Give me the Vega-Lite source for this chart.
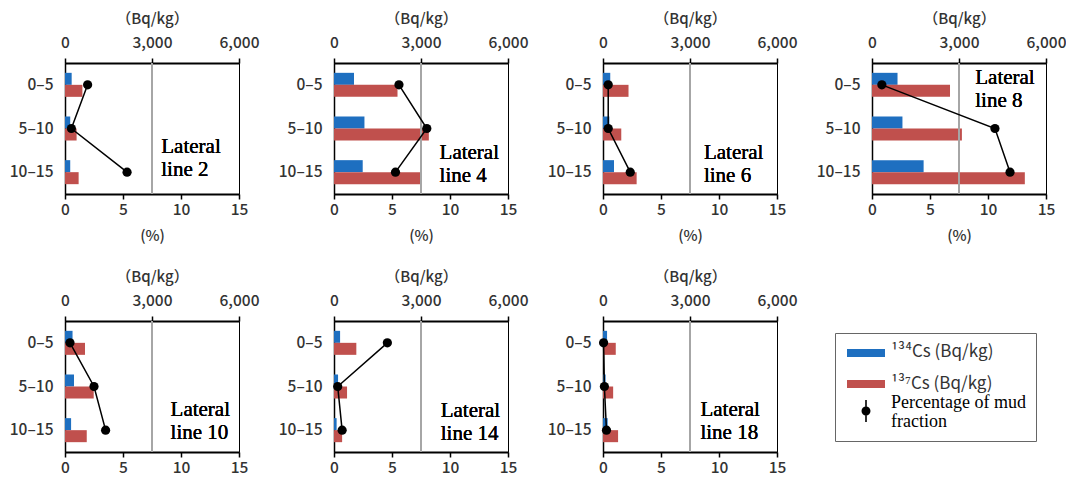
{
"$schema":"https://vega.github.io/schema/vega-lite/v6.json",
"padding":{"left":8,"top":10,"right":5,"bottom":5},
"datasets":{"d":[
{"panel":"Lateral line 2","depth":"0–5","series":"134Cs","value":230},
{"panel":"Lateral line 2","depth":"0–5","series":"137Cs","value":600},
{"panel":"Lateral line 2","depth":"0–5","series":"mud","value":1.95},
{"panel":"Lateral line 2","depth":"5–10","series":"134Cs","value":180},
{"panel":"Lateral line 2","depth":"5–10","series":"137Cs","value":400},
{"panel":"Lateral line 2","depth":"5–10","series":"mud","value":0.55},
{"panel":"Lateral line 2","depth":"10–15","series":"134Cs","value":180},
{"panel":"Lateral line 2","depth":"10–15","series":"137Cs","value":470},
{"panel":"Lateral line 2","depth":"10–15","series":"mud","value":5.35},
{"panel":"Lateral line 4","depth":"0–5","series":"134Cs","value":690},
{"panel":"Lateral line 4","depth":"0–5","series":"137Cs","value":2190},
{"panel":"Lateral line 4","depth":"0–5","series":"mud","value":5.6},
{"panel":"Lateral line 4","depth":"5–10","series":"134Cs","value":1050},
{"panel":"Lateral line 4","depth":"5–10","series":"137Cs","value":3270},
{"panel":"Lateral line 4","depth":"5–10","series":"mud","value":8.0},
{"panel":"Lateral line 4","depth":"10–15","series":"134Cs","value":990},
{"panel":"Lateral line 4","depth":"10–15","series":"137Cs","value":2970},
{"panel":"Lateral line 4","depth":"10–15","series":"mud","value":5.3},
{"panel":"Lateral line 6","depth":"0–5","series":"134Cs","value":250},
{"panel":"Lateral line 6","depth":"0–5","series":"137Cs","value":880},
{"panel":"Lateral line 6","depth":"0–5","series":"mud","value":0.45},
{"panel":"Lateral line 6","depth":"5–10","series":"134Cs","value":220},
{"panel":"Lateral line 6","depth":"5–10","series":"137Cs","value":630},
{"panel":"Lateral line 6","depth":"5–10","series":"mud","value":0.45},
{"panel":"Lateral line 6","depth":"10–15","series":"134Cs","value":380},
{"panel":"Lateral line 6","depth":"10–15","series":"137Cs","value":1160},
{"panel":"Lateral line 6","depth":"10–15","series":"mud","value":2.35},
{"panel":"Lateral line 8","depth":"0–5","series":"134Cs","value":880},
{"panel":"Lateral line 8","depth":"0–5","series":"137Cs","value":2690},
{"panel":"Lateral line 8","depth":"0–5","series":"mud","value":0.85},
{"panel":"Lateral line 8","depth":"5–10","series":"134Cs","value":1050},
{"panel":"Lateral line 8","depth":"5–10","series":"137Cs","value":3100},
{"panel":"Lateral line 8","depth":"5–10","series":"mud","value":10.6},
{"panel":"Lateral line 8","depth":"10–15","series":"134Cs","value":1780},
{"panel":"Lateral line 8","depth":"10–15","series":"137Cs","value":5270},
{"panel":"Lateral line 8","depth":"10–15","series":"mud","value":11.9},
{"panel":"Lateral line 10","depth":"0–5","series":"134Cs","value":260},
{"panel":"Lateral line 10","depth":"0–5","series":"137Cs","value":690},
{"panel":"Lateral line 10","depth":"0–5","series":"mud","value":0.43},
{"panel":"Lateral line 10","depth":"5–10","series":"134Cs","value":310},
{"panel":"Lateral line 10","depth":"5–10","series":"137Cs","value":990},
{"panel":"Lateral line 10","depth":"5–10","series":"mud","value":2.5},
{"panel":"Lateral line 10","depth":"10–15","series":"134Cs","value":210},
{"panel":"Lateral line 10","depth":"10–15","series":"137Cs","value":750},
{"panel":"Lateral line 10","depth":"10–15","series":"mud","value":3.5},
{"panel":"Lateral line 14","depth":"0–5","series":"134Cs","value":210},
{"panel":"Lateral line 14","depth":"0–5","series":"137Cs","value":770},
{"panel":"Lateral line 14","depth":"0–5","series":"mud","value":4.6},
{"panel":"Lateral line 14","depth":"5–10","series":"134Cs","value":140},
{"panel":"Lateral line 14","depth":"5–10","series":"137Cs","value":450},
{"panel":"Lateral line 14","depth":"5–10","series":"mud","value":0.32},
{"panel":"Lateral line 14","depth":"10–15","series":"134Cs","value":90},
{"panel":"Lateral line 14","depth":"10–15","series":"137Cs","value":280},
{"panel":"Lateral line 14","depth":"10–15","series":"mud","value":0.7},
{"panel":"Lateral line 18","depth":"0–5","series":"134Cs","value":140},
{"panel":"Lateral line 18","depth":"0–5","series":"137Cs","value":440},
{"panel":"Lateral line 18","depth":"0–5","series":"mud","value":0.05},
{"panel":"Lateral line 18","depth":"5–10","series":"134Cs","value":90},
{"panel":"Lateral line 18","depth":"5–10","series":"137Cs","value":350},
{"panel":"Lateral line 18","depth":"5–10","series":"mud","value":0.12},
{"panel":"Lateral line 18","depth":"10–15","series":"134Cs","value":160},
{"panel":"Lateral line 18","depth":"10–15","series":"137Cs","value":520},
{"panel":"Lateral line 18","depth":"10–15","series":"mud","value":0.3}
]},
"config":{
"font":"Noto Sans CJK JP",
"view":{"stroke":"black","strokeWidth":1},
"axis":{"domainColor":"black","domainWidth":2,"tickColor":"black","tickWidth":1.5,"tickSize":5,"labelFont":"Noto Sans CJK JP","labelFontSize":15.5,"labelFontWeight":500,"labelColor":"#333","titleFont":"Noto Sans CJK JP","titleFontSize":15,"titleFontWeight":500,"titleColor":"#333","grid":false,"labelAngle":0,"labelFlush":false}
},
"columns":4,
"spacing":{"row":127,"column":95},
"bounds":"flush",
"resolve":{"scale":{"color":"shared","shape":"shared"}},
"concat":[
{"width":174,"height":131,"data":{"name":"d"},"transform":[{"filter":"datum.panel == 'Lateral line 2'"}],
"layer":[
{"layer":[
{"transform":[{"filter":"datum.series != 'mud'"}],"mark":{"type":"bar"},
"encoding":{
"y":{"field":"depth","type":"nominal","sort":["0–5","5–10","10–15"],"scale":{"paddingInner":0.45,"paddingOuter":0.225},"axis":{"title":null,"ticks":false,"labelPadding":12,"domainWidth":1.5}},
"yOffset":{"field":"series","type":"nominal","sort":["134Cs","137Cs"],"scale":{"paddingInner":0,"paddingOuter":0}},
"x":{"field":"value","type":"quantitative","scale":{"domain":[0,6000],"nice":false},"axis":{"orient":"top","values":[0,3000,6000],"format":",d","title":"（Bq/kg）","labelPadding":8,"titlePadding":9}},
"color":{"field":"series","type":"nominal","scale":{"domain":["134Cs","137Cs","mud"],"range":["#1e6fc0","#c0504d","#000000"]}}}},
{"mark":{"type":"rule","color":"#a6a6a6","strokeWidth":1.5},"encoding":{"x":{"datum":3000}}}
]},
{"transform":[{"filter":"datum.series == 'mud'"}],"layer":[
{"mark":{"type":"line","color":"black","strokeWidth":1.5},"encoding":{
"x":{"field":"value","type":"quantitative","scale":{"domain":[0,15],"nice":false},"axis":{"orient":"bottom","values":[0,5,10,15],"title":"(%)","labelPadding":3,"titlePadding":11}},
"y":{"field":"depth","type":"nominal","sort":["0–5","5–10","10–15"]}}},
{"mark":{"type":"point","filled":true,"color":"black","opacity":1,"size":85,"shape":"circle"},"encoding":{
"x":{"field":"value","type":"quantitative"},
"y":{"field":"depth","type":"nominal","sort":["0–5","5–10","10–15"]}}},
{"mark":{"type":"text","text":["Lateral","line 2"],"font":"Liberation Serif","fontSize":21,"lineHeight":23,"align":"left","baseline":"alphabetic","dy":-19,"color":"black"},
"encoding":{"x":{"datum":8.3},"y":{"datum":"10–15"}}}
]}
],
"resolve":{"scale":{"x":"independent"},"axis":{"x":"independent"}}},

{"width":174,"height":131,"data":{"name":"d"},"transform":[{"filter":"datum.panel == 'Lateral line 4'"}],
"layer":[
{"layer":[
{"transform":[{"filter":"datum.series != 'mud'"}],"mark":{"type":"bar"},
"encoding":{
"y":{"field":"depth","type":"nominal","sort":["0–5","5–10","10–15"],"scale":{"paddingInner":0.45,"paddingOuter":0.225},"axis":{"title":null,"ticks":false,"labelPadding":12,"domainWidth":1.5}},
"yOffset":{"field":"series","type":"nominal","sort":["134Cs","137Cs"],"scale":{"paddingInner":0,"paddingOuter":0}},
"x":{"field":"value","type":"quantitative","scale":{"domain":[0,6000],"nice":false},"axis":{"orient":"top","values":[0,3000,6000],"format":",d","title":"（Bq/kg）","labelPadding":8,"titlePadding":9}},
"color":{"field":"series","type":"nominal","scale":{"domain":["134Cs","137Cs","mud"],"range":["#1e6fc0","#c0504d","#000000"]}}}},
{"mark":{"type":"rule","color":"#a6a6a6","strokeWidth":1.5},"encoding":{"x":{"datum":3000}}}
]},
{"transform":[{"filter":"datum.series == 'mud'"}],"layer":[
{"mark":{"type":"line","color":"black","strokeWidth":1.5},"encoding":{
"x":{"field":"value","type":"quantitative","scale":{"domain":[0,15],"nice":false},"axis":{"orient":"bottom","values":[0,5,10,15],"title":"(%)","labelPadding":3,"titlePadding":11}},
"y":{"field":"depth","type":"nominal","sort":["0–5","5–10","10–15"]}}},
{"mark":{"type":"point","filled":true,"color":"black","opacity":1,"size":85,"shape":"circle"},"encoding":{
"x":{"field":"value","type":"quantitative"},
"y":{"field":"depth","type":"nominal","sort":["0–5","5–10","10–15"]}}},
{"mark":{"type":"text","text":["Lateral","line 4"],"font":"Liberation Serif","fontSize":21,"lineHeight":23,"align":"left","baseline":"alphabetic","dy":-13,"color":"black"},
"encoding":{"x":{"datum":9.1},"y":{"datum":"10–15"}}}
]}
],
"resolve":{"scale":{"x":"independent"},"axis":{"x":"independent"}}},

{"width":174,"height":131,"data":{"name":"d"},"transform":[{"filter":"datum.panel == 'Lateral line 6'"}],
"layer":[
{"layer":[
{"transform":[{"filter":"datum.series != 'mud'"}],"mark":{"type":"bar"},
"encoding":{
"y":{"field":"depth","type":"nominal","sort":["0–5","5–10","10–15"],"scale":{"paddingInner":0.45,"paddingOuter":0.225},"axis":{"title":null,"ticks":false,"labelPadding":12,"domainWidth":1.5}},
"yOffset":{"field":"series","type":"nominal","sort":["134Cs","137Cs"],"scale":{"paddingInner":0,"paddingOuter":0}},
"x":{"field":"value","type":"quantitative","scale":{"domain":[0,6000],"nice":false},"axis":{"orient":"top","values":[0,3000,6000],"format":",d","title":"（Bq/kg）","labelPadding":8,"titlePadding":9}},
"color":{"field":"series","type":"nominal","scale":{"domain":["134Cs","137Cs","mud"],"range":["#1e6fc0","#c0504d","#000000"]}}}},
{"mark":{"type":"rule","color":"#a6a6a6","strokeWidth":1.5},"encoding":{"x":{"datum":3000}}}
]},
{"transform":[{"filter":"datum.series == 'mud'"}],"layer":[
{"mark":{"type":"line","color":"black","strokeWidth":1.5},"encoding":{
"x":{"field":"value","type":"quantitative","scale":{"domain":[0,15],"nice":false},"axis":{"orient":"bottom","values":[0,5,10,15],"title":"(%)","labelPadding":3,"titlePadding":11}},
"y":{"field":"depth","type":"nominal","sort":["0–5","5–10","10–15"]}}},
{"mark":{"type":"point","filled":true,"color":"black","opacity":1,"size":85,"shape":"circle"},"encoding":{
"x":{"field":"value","type":"quantitative"},
"y":{"field":"depth","type":"nominal","sort":["0–5","5–10","10–15"]}}},
{"mark":{"type":"text","text":["Lateral","line 6"],"font":"Liberation Serif","fontSize":21,"lineHeight":23,"align":"left","baseline":"alphabetic","dy":-13,"color":"black"},
"encoding":{"x":{"datum":8.7},"y":{"datum":"10–15"}}}
]}
],
"resolve":{"scale":{"x":"independent"},"axis":{"x":"independent"}}},

{"width":174,"height":131,"data":{"name":"d"},"transform":[{"filter":"datum.panel == 'Lateral line 8'"}],
"layer":[
{"layer":[
{"transform":[{"filter":"datum.series != 'mud'"}],"mark":{"type":"bar"},
"encoding":{
"y":{"field":"depth","type":"nominal","sort":["0–5","5–10","10–15"],"scale":{"paddingInner":0.45,"paddingOuter":0.225},"axis":{"title":null,"ticks":false,"labelPadding":12,"domainWidth":1.5}},
"yOffset":{"field":"series","type":"nominal","sort":["134Cs","137Cs"],"scale":{"paddingInner":0,"paddingOuter":0}},
"x":{"field":"value","type":"quantitative","scale":{"domain":[0,6000],"nice":false},"axis":{"orient":"top","values":[0,3000,6000],"format":",d","title":"（Bq/kg）","labelPadding":8,"titlePadding":9}},
"color":{"field":"series","type":"nominal","scale":{"domain":["134Cs","137Cs","mud"],"range":["#1e6fc0","#c0504d","#000000"]}}}},
{"mark":{"type":"rule","color":"#a6a6a6","strokeWidth":1.5},"encoding":{"x":{"datum":3000}}}
]},
{"transform":[{"filter":"datum.series == 'mud'"}],"layer":[
{"mark":{"type":"line","color":"black","strokeWidth":1.5},"encoding":{
"x":{"field":"value","type":"quantitative","scale":{"domain":[0,15],"nice":false},"axis":{"orient":"bottom","values":[0,5,10,15],"title":"(%)","labelPadding":3,"titlePadding":11}},
"y":{"field":"depth","type":"nominal","sort":["0–5","5–10","10–15"]}}},
{"mark":{"type":"point","filled":true,"color":"black","opacity":1,"size":85,"shape":"circle"},"encoding":{
"x":{"field":"value","type":"quantitative"},
"y":{"field":"depth","type":"nominal","sort":["0–5","5–10","10–15"]}}},
{"mark":{"type":"text","text":["Lateral","line 8"],"font":"Liberation Serif","fontSize":21,"lineHeight":23,"align":"left","baseline":"alphabetic","dy":-1,"color":"black"},
"encoding":{"x":{"datum":8.9},"y":{"datum":"0–5"}}}
]}
],
"resolve":{"scale":{"x":"independent"},"axis":{"x":"independent"}}},

{"width":174,"height":131,"data":{"name":"d"},"transform":[{"filter":"datum.panel == 'Lateral line 10'"}],
"layer":[
{"layer":[
{"transform":[{"filter":"datum.series != 'mud'"}],"mark":{"type":"bar"},
"encoding":{
"y":{"field":"depth","type":"nominal","sort":["0–5","5–10","10–15"],"scale":{"paddingInner":0.45,"paddingOuter":0.225},"axis":{"title":null,"ticks":false,"labelPadding":12,"domainWidth":1.5}},
"yOffset":{"field":"series","type":"nominal","sort":["134Cs","137Cs"],"scale":{"paddingInner":0,"paddingOuter":0}},
"x":{"field":"value","type":"quantitative","scale":{"domain":[0,6000],"nice":false},"axis":{"orient":"top","values":[0,3000,6000],"format":",d","title":"（Bq/kg）","labelPadding":8,"titlePadding":9}},
"color":{"field":"series","type":"nominal","scale":{"domain":["134Cs","137Cs","mud"],"range":["#1e6fc0","#c0504d","#000000"]}}}},
{"mark":{"type":"rule","color":"#a6a6a6","strokeWidth":1.5},"encoding":{"x":{"datum":3000}}}
]},
{"transform":[{"filter":"datum.series == 'mud'"}],"layer":[
{"mark":{"type":"line","color":"black","strokeWidth":1.5},"encoding":{
"x":{"field":"value","type":"quantitative","scale":{"domain":[0,15],"nice":false},"axis":{"orient":"bottom","values":[0,5,10,15],"title":null,"labelPadding":3}},
"y":{"field":"depth","type":"nominal","sort":["0–5","5–10","10–15"]}}},
{"mark":{"type":"point","filled":true,"color":"black","opacity":1,"size":85,"shape":"circle"},"encoding":{
"x":{"field":"value","type":"quantitative"},
"y":{"field":"depth","type":"nominal","sort":["0–5","5–10","10–15"]}}},
{"mark":{"type":"text","text":["Lateral","line 10"],"font":"Liberation Serif","fontSize":21,"lineHeight":23,"align":"left","baseline":"alphabetic","dy":-14,"color":"black"},
"encoding":{"x":{"datum":9.1},"y":{"datum":"10–15"}}}
]}
],
"resolve":{"scale":{"x":"independent"},"axis":{"x":"independent"}}},

{"width":174,"height":131,"data":{"name":"d"},"transform":[{"filter":"datum.panel == 'Lateral line 14'"}],
"layer":[
{"layer":[
{"transform":[{"filter":"datum.series != 'mud'"}],"mark":{"type":"bar"},
"encoding":{
"y":{"field":"depth","type":"nominal","sort":["0–5","5–10","10–15"],"scale":{"paddingInner":0.45,"paddingOuter":0.225},"axis":{"title":null,"ticks":false,"labelPadding":12,"domainWidth":1.5}},
"yOffset":{"field":"series","type":"nominal","sort":["134Cs","137Cs"],"scale":{"paddingInner":0,"paddingOuter":0}},
"x":{"field":"value","type":"quantitative","scale":{"domain":[0,6000],"nice":false},"axis":{"orient":"top","values":[0,3000,6000],"format":",d","title":"（Bq/kg）","labelPadding":8,"titlePadding":9}},
"color":{"field":"series","type":"nominal","scale":{"domain":["134Cs","137Cs","mud"],"range":["#1e6fc0","#c0504d","#000000"]}}}},
{"mark":{"type":"rule","color":"#a6a6a6","strokeWidth":1.5},"encoding":{"x":{"datum":3000}}}
]},
{"transform":[{"filter":"datum.series == 'mud'"}],"layer":[
{"mark":{"type":"line","color":"black","strokeWidth":1.5},"encoding":{
"x":{"field":"value","type":"quantitative","scale":{"domain":[0,15],"nice":false},"axis":{"orient":"bottom","values":[0,5,10,15],"title":null,"labelPadding":3}},
"y":{"field":"depth","type":"nominal","sort":["0–5","5–10","10–15"]}}},
{"mark":{"type":"point","filled":true,"color":"black","opacity":1,"size":85,"shape":"circle"},"encoding":{
"x":{"field":"value","type":"quantitative"},
"y":{"field":"depth","type":"nominal","sort":["0–5","5–10","10–15"]}}},
{"mark":{"type":"text","text":["Lateral","line 14"],"font":"Liberation Serif","fontSize":21,"lineHeight":23,"align":"left","baseline":"alphabetic","dy":-13,"color":"black"},
"encoding":{"x":{"datum":9.2},"y":{"datum":"10–15"}}}
]}
],
"resolve":{"scale":{"x":"independent"},"axis":{"x":"independent"}}},

{"width":174,"height":131,"data":{"name":"d"},"transform":[{"filter":"datum.panel == 'Lateral line 18'"}],
"layer":[
{"layer":[
{"transform":[{"filter":"datum.series != 'mud'"}],"mark":{"type":"bar"},
"encoding":{
"y":{"field":"depth","type":"nominal","sort":["0–5","5–10","10–15"],"scale":{"paddingInner":0.45,"paddingOuter":0.225},"axis":{"title":null,"ticks":false,"labelPadding":12,"domainWidth":1.5}},
"yOffset":{"field":"series","type":"nominal","sort":["134Cs","137Cs"],"scale":{"paddingInner":0,"paddingOuter":0}},
"x":{"field":"value","type":"quantitative","scale":{"domain":[0,6000],"nice":false},"axis":{"orient":"top","values":[0,3000,6000],"format":",d","title":"（Bq/kg）","labelPadding":8,"titlePadding":9}},
"color":{"field":"series","type":"nominal","scale":{"domain":["134Cs","137Cs","mud"],"range":["#1e6fc0","#c0504d","#000000"]}}}},
{"mark":{"type":"rule","color":"#a6a6a6","strokeWidth":1.5},"encoding":{"x":{"datum":3000}}}
]},
{"transform":[{"filter":"datum.series == 'mud'"}],"layer":[
{"mark":{"type":"line","color":"black","strokeWidth":1.5},"encoding":{
"x":{"field":"value","type":"quantitative","scale":{"domain":[0,15],"nice":false},"axis":{"orient":"bottom","values":[0,5,10,15],"title":null,"labelPadding":3}},
"y":{"field":"depth","type":"nominal","sort":["0–5","5–10","10–15"]}}},
{"mark":{"type":"point","filled":true,"color":"black","opacity":1,"size":85,"shape":"circle"},"encoding":{
"x":{"field":"value","type":"quantitative"},
"y":{"field":"depth","type":"nominal","sort":["0–5","5–10","10–15"]}}},
{"mark":{"type":"point","filled":true,"opacity":0},"encoding":{
"x":{"field":"value","type":"quantitative"},
"y":{"field":"depth","type":"nominal","sort":["0–5","5–10","10–15"]},
"color":{"field":"series","type":"nominal","scale":{"domain":["134Cs","137Cs","mud"],"range":["#1e6fc0","#c0504d","#000000"]},
"legend":{"orient":"none","legendX":770,"legendY":270,"title":null,"symbolSize":400,"symbolOpacity":1,"symbolStrokeWidth":0,"symbolType":"square","labelFont":"Noto Sans CJK JP","labelFontSize":17,"labelColor":"#333","labelOffset":15,"symbolOffset":11,"rowPadding":2,"padding":10,"strokeColor":"#666","labelLimit":300,"labelBaseline":"top",
"labelExpr":"datum.value == '134Cs' ? '¹³⁴Cs (Bq/kg)' : datum.value == '137Cs' ? ['', '¹³⁷Cs (Bq/kg)'] : ['Percentage of mud', 'fraction']",
"encode":{"labels":{"update":{"font":{"signal":"datum.value == 'mud' ? 'Liberation Serif' : 'Noto Sans CJK JP'"},"fontSize":{"signal":"datum.value == 'mud' ? 18 : 17"},"fill":{"signal":"datum.value == 'mud' ? 'black' : '#333'"},"lineHeight":{"signal":"datum.value == 'mud' ? 19 : 13"},"baseline":{"value":"top"},"dy":{"signal":"datum.value == 'mud' ? -17 : datum.value == '137Cs' ? -21 : -9"}}}}}},
"shape":{"field":"series","type":"nominal","scale":{"domain":["134Cs","137Cs","mud"],"range":["M-1.9,-0.4H1.9V0.4H-1.9Z","M-1.9,-0.4H1.9V0.4H-1.9Z","M-0.08,-1.1H0.08V-0.35H-0.08Z M-0.08,0.35H0.08V1.1H-0.08Z M0.45,0A0.45,0.45 0 1,1 -0.45,0A0.45,0.45 0 1,1 0.45,0Z"]}}}},
{"mark":{"type":"text","text":["Lateral","line 18"],"font":"Liberation Serif","fontSize":21,"lineHeight":23,"align":"left","baseline":"alphabetic","dy":-14,"color":"black"},
"encoding":{"x":{"datum":8.4},"y":{"datum":"10–15"}}}
]}
],
"resolve":{"scale":{"x":"independent"},"axis":{"x":"independent"}}}
]
}
